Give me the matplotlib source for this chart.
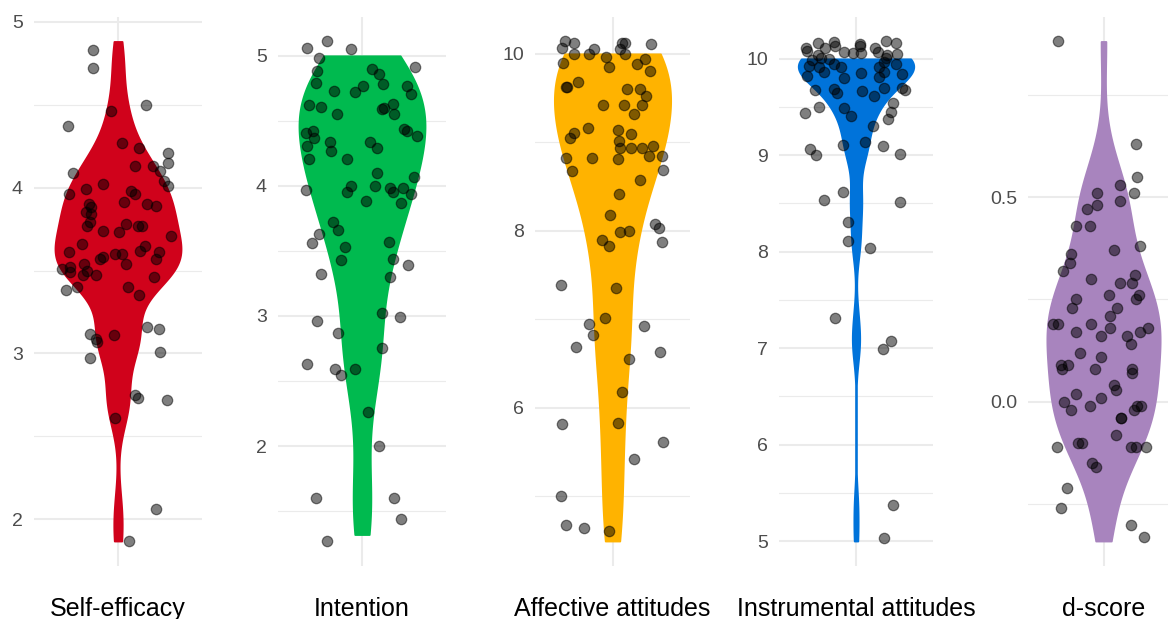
import numpy as np
import matplotlib
matplotlib.use("Agg")
import matplotlib.pyplot as plt
from matplotlib import mlab
from matplotlib.ticker import MultipleLocator, FormatStrFormatter

plt.rcParams["font.family"] = ["Liberation Sans", "DejaVu Sans"]

# --- data ----------------------------------------------------------------
labels = ["Self-efficacy", "Intention", "Affective attitudes",
          "Instrumental attitudes", "d-score"]
colors = ["#D0021B", "#00BA4F", "#FFB300", "#0073DA", "#A884BE"]

# violin extents (data range of the un-jittered scores)
violin_lo = [1.87, 1.32, 4.49, 5.0, -0.34]
violin_hi = [4.88, 5.0, 10.0, 10.0, 0.88]

self_eff_y = [4.83, 4.72, 4.50, 4.46, 4.37, 4.27, 4.24, 4.21, 4.15, 4.13,
              4.13, 4.10, 4.09, 4.02, 4.04, 4.01, 3.99, 3.96, 3.98, 3.96,
              3.91, 3.90, 3.88, 3.90, 3.89, 3.85, 3.84, 3.79, 3.77, 3.78,
              3.77, 3.77, 3.74, 3.73, 3.71, 3.66, 3.65, 3.61, 3.62, 3.61,
              3.60, 3.60, 3.57, 3.57, 3.58, 3.54, 3.54, 3.52, 3.51, 3.49,
              3.50, 3.47, 3.47, 3.46, 3.38, 3.40, 3.40, 3.35, 3.16, 3.15,
              3.12, 3.09, 3.07, 3.11, 3.01, 2.97, 2.75, 2.73, 2.72, 2.61,
              2.06, 1.87]
self_eff_x = [-0.18, -0.18, 0.20, -0.05, -0.36, 0.03, 0.15, 0.36, 0.36, 0.12,
              0.25, 0.30, -0.32, -0.11, 0.33, 0.36, -0.23, -0.35, 0.09, 0.12,
              0.04, -0.21, -0.19, 0.21, 0.27, -0.23, -0.19, -0.20, -0.22, 0.06,
              0.14, 0.17, -0.11, 0.01, 0.38, -0.26, 0.19, -0.35, 0.16, 0.29,
              -0.02, 0.03, 0.27, -0.13, -0.11, 0.06, -0.24, -0.34, -0.40, -0.34,
              -0.22, -0.16, -0.25, 0.26, -0.37, -0.29, 0.07, 0.15, 0.21, 0.29,
              -0.20, -0.16, -0.15, -0.03, 0.30, -0.20, 0.12, 0.14, 0.35, -0.02,
              0.27, 0.08]

intention_y = [5.06, 5.11, 5.05, 4.98, 4.91, 4.88, 4.90, 4.86, 4.79, 4.77,
               4.78, 4.77, 4.71, 4.73, 4.72, 4.62, 4.61, 4.55, 4.59, 4.60,
               4.63, 4.55, 4.44, 4.42, 4.38, 4.41, 4.42, 4.37, 4.31, 4.34,
               4.27, 4.34, 4.29, 4.21, 4.21, 4.10, 4.07, 3.97, 4.00, 3.95,
               4.00, 3.98, 3.95, 3.98, 3.94, 3.88, 3.87, 3.72, 3.66, 3.63,
               3.56, 3.53, 3.57, 3.44, 3.43, 3.39, 3.32, 3.30, 2.96, 3.02,
               2.99, 2.87, 2.75, 2.63, 2.59, 2.55, 2.59, 2.26, 2.00, 1.60,
               1.60, 1.44, 1.27]
intention_x = [-0.39, -0.25, -0.08, -0.31, 0.38, -0.32, 0.07, 0.12, -0.33, 0.01,
               0.15, 0.32, 0.35, -0.20, -0.05, -0.38, -0.29, -0.18, 0.14, 0.16,
               0.22, 0.23, 0.30, 0.32, 0.39, -0.40, -0.35, -0.34, -0.39, -0.23,
               -0.22, 0.06, 0.11, -0.38, -0.11, 0.11, 0.37, -0.40, -0.08, -0.11,
               0.09, 0.20, 0.22, 0.29, 0.35, 0.03, 0.28, -0.21, -0.17, -0.31,
               -0.36, -0.12, 0.19, 0.22, -0.15, 0.33, -0.29, 0.20, -0.32, 0.14,
               0.27, -0.17, 0.14, -0.39, -0.19, -0.15, -0.05, 0.04, 0.12, -0.33,
               0.23, 0.28, -0.25]

affective_y = [10.14, 10.12, 10.07, 10.12, 10.12, 10.06, 10.11, 10.05, 10.00, 10.00,
               9.97, 10.00, 9.94, 9.89, 9.90, 9.85, 9.81, 9.63, 9.63, 9.68,
               9.60, 9.60, 9.52, 9.42, 9.42, 9.42, 9.32, 9.16, 9.10, 9.05,
               9.14, 9.09, 9.01, 8.94, 8.94, 8.94, 8.96, 8.82, 8.82, 8.81,
               8.85, 8.85, 8.67, 8.69, 8.57, 8.42, 8.18, 8.07, 8.03, 7.99,
               8.00, 7.87, 7.90, 7.83, 7.39, 7.35, 7.01, 6.94, 6.82, 6.92,
               6.68, 6.63, 6.55, 6.17, 5.81, 5.83, 5.61, 5.42, 5.00, 4.67,
               4.64, 4.60]
affective_x = [-0.37, -0.30, -0.39, 0.07, 0.10, 0.06, 0.30, -0.14, -0.18, -0.30,
               -0.05, 0.10, 0.25, 0.19, -0.38, -0.03, 0.29, -0.36, -0.35, -0.27,
               0.11, 0.21, 0.26, -0.07, 0.09, 0.23, 0.17, -0.19, -0.30, -0.33,
               0.04, 0.14, 0.05, 0.06, 0.14, 0.23, 0.31, -0.36, -0.16, 0.04,
               0.28, 0.38, -0.31, 0.39, 0.21, 0.05, -0.02, 0.33, 0.36, 0.06,
               0.13, 0.38, -0.08, -0.03, -0.40, 0.03, -0.06, -0.18, -0.15, 0.24,
               -0.28, 0.37, 0.13, 0.07, -0.39, 0.04, 0.39, 0.17, -0.40, -0.36,
               -0.22, -0.03]

instrumental_y = [10.11, 10.08, 10.16, 10.11, 10.17, 10.13, 10.07, 10.06, 10.15, 10.13,
                  10.06, 10.11, 10.07, 10.18, 10.16, 10.04, 10.05, 10.04, 9.99, 9.93,
                  10.01, 10.00, 9.92, 9.86, 9.95, 9.92, 9.82, 9.80, 9.85, 9.92,
                  9.97, 10.01, 9.86, 9.81, 9.95, 9.84, 9.68, 9.69, 9.65, 9.67,
                  9.61, 9.70, 9.70, 9.68, 9.50, 9.44, 9.49, 9.41, 9.54, 9.45,
                  9.38, 9.30, 9.11, 9.14, 9.10, 9.07, 9.00, 9.01, 8.62, 8.54,
                  8.52, 8.31, 8.11, 8.04, 7.31, 6.99, 7.07, 5.37, 5.03]
instrumental_x = [-0.39, -0.38, -0.30, -0.24, -0.17, -0.16, -0.09, -0.02, 0.03, 0.03,
                  0.04, 0.15, 0.17, 0.23, 0.31, 0.24, 0.32, -0.30, -0.34, -0.37,
                  -0.27, -0.21, -0.29, -0.25, -0.17, -0.12, -0.38, -0.09, 0.04, 0.18,
                  0.22, 0.23, 0.22, 0.18, 0.31, 0.36, -0.32, -0.17, -0.15, 0.05,
                  0.14, 0.22, 0.36, 0.38, -0.29, -0.40, -0.09, -0.04, 0.29, 0.27,
                  0.25, 0.13, -0.10, 0.07, 0.21, -0.36, -0.31, 0.34, -0.10, -0.25,
                  0.34, -0.06, -0.06, 0.11, -0.16, 0.21, 0.27, 0.29, 0.22]

dscore_y = [0.88, 0.63, 0.55, 0.51, 0.53, 0.51, 0.48, 0.49, 0.47, 0.43,
            0.43, 0.38, 0.37, 0.36, 0.34, 0.32, 0.30, 0.31, 0.29, 0.29,
            0.26, 0.25, 0.25, 0.26, 0.23, 0.23, 0.21, 0.19, 0.19, 0.19,
            0.17, 0.18, 0.16, 0.16, 0.14, 0.17, 0.18, 0.12, 0.11, 0.09,
            0.08, 0.09, 0.08, 0.08, 0.07, 0.04, 0.03, 0.02, 0.00, -0.01,
            0.01, -0.01, -0.01, -0.02, -0.02, -0.04, -0.04, -0.08, -0.11, -0.10,
            -0.10, -0.11, -0.11, -0.11, -0.15, -0.16, -0.21, -0.26, -0.30, -0.33]
dscore_x = [-0.36, 0.26, 0.27, 0.24, 0.13, -0.05, -0.05, 0.13, -0.13, -0.22,
            -0.11, 0.29, 0.08, -0.26, -0.27, -0.32, -0.10, 0.25, 0.23, 0.13,
            0.28, 0.26, -0.22, 0.04, -0.25, 0.11, 0.05, -0.40, -0.36, -0.10,
            -0.22, 0.05, -0.02, 0.19, 0.22, 0.29, 0.35, -0.19, -0.02, -0.34,
            -0.33, -0.28, -0.07, 0.23, 0.23, 0.08, 0.10, -0.22, -0.31, -0.11,
            -0.02, 0.27, 0.30, -0.26, 0.24, 0.14, 0.14, 0.10, -0.37, -0.20,
            -0.17, 0.22, 0.26, 0.34, -0.09, -0.06, -0.29, -0.34, 0.22, 0.32]

all_y = [self_eff_y, intention_y, affective_y, instrumental_y, dscore_y]
all_x = [self_eff_x, intention_x, affective_x, instrumental_x, dscore_x]

# tick spacing per panel (major, minor) and label format
tick_steps = [(1, 0.5), (1, 0.5), (2, 1), (1, 0.5), (0.5, 0.25)]
tick_fmt = ["%d", "%d", "%d", "%d", "%.1f"]

# panel placement in pixels (left edge, width) - last panel runs off the edge
panel_left = [34, 278, 535, 779, 1028]
panel_width = [168, 168, 155, 154, 151]
W, H = 1168, 619
top_px, bottom_px = 16.5, 566


def violin_stats(y, lo, hi):
    """Gaussian KDE with R's nrd0 bandwidth, trimmed to [lo, hi]."""
    y = np.clip(np.asarray(y), lo, hi)
    sd = y.std(ddof=1)
    q1, q3 = np.percentile(y, [25, 75])
    bw = 0.9 * min(sd, (q3 - q1) / 1.34) * len(y) ** -0.2
    kde = mlab.GaussianKDE(y, bw / sd)
    coords = np.linspace(lo, hi, 512)
    return {"coords": coords, "vals": kde.evaluate(coords),
            "mean": y.mean(), "median": np.median(y), "min": lo, "max": hi}


fig = plt.figure(figsize=(W / 100, H / 100), dpi=100)

for i in range(5):
    ax = fig.add_axes([panel_left[i] / W, (H - bottom_px) / H,
                       panel_width[i] / W, (bottom_px - top_px) / H])
    y = np.array(all_y[i])
    x = 1 + np.array(all_x[i])

    parts = ax.violin([violin_stats(y, violin_lo[i], violin_hi[i])],
                      positions=[1], widths=0.9, showextrema=False)
    body = parts["bodies"][0]
    body.set_facecolor(colors[i])
    body.set_edgecolor(colors[i])
    body.set_linewidth(1.3)
    body.set_alpha(1)
    body.set_zorder(2)

    ax.scatter(x, y, s=56, c="black", alpha=0.5, edgecolors="black",
               linewidths=0.9, zorder=3)

    lo = min(y.min(), violin_lo[i])
    hi = max(y.max(), violin_hi[i])
    pad = 0.05 * (hi - lo)
    ax.set_ylim(lo - pad, hi + pad)
    ax.set_xlim(0.4, 1.6)

    ax.yaxis.set_major_locator(MultipleLocator(tick_steps[i][0]))
    ax.yaxis.set_minor_locator(MultipleLocator(tick_steps[i][1]))
    ax.yaxis.set_major_formatter(FormatStrFormatter(tick_fmt[i]))
    ax.set_xticks([1])
    ax.set_xticklabels([""])

    ax.grid(True, which="major", color="#EBEBEB", linewidth=1.5)
    ax.grid(True, which="minor", axis="y", color="#EBEBEB", linewidth=0.8)
    ax.set_axisbelow(True)
    ax.tick_params(which="both", length=0)
    ax.tick_params(axis="y", labelsize=14, labelcolor="#4D4D4D", pad=8)
    for s in ax.spines.values():
        s.set_visible(False)

    cx = (panel_left[i] + panel_width[i] / 2) / W
    fig.text(cx, (H - 616) / H, labels[i], ha="center", va="baseline",
             fontsize=18, color="black")

fig.savefig("out.png", dpi=100)
